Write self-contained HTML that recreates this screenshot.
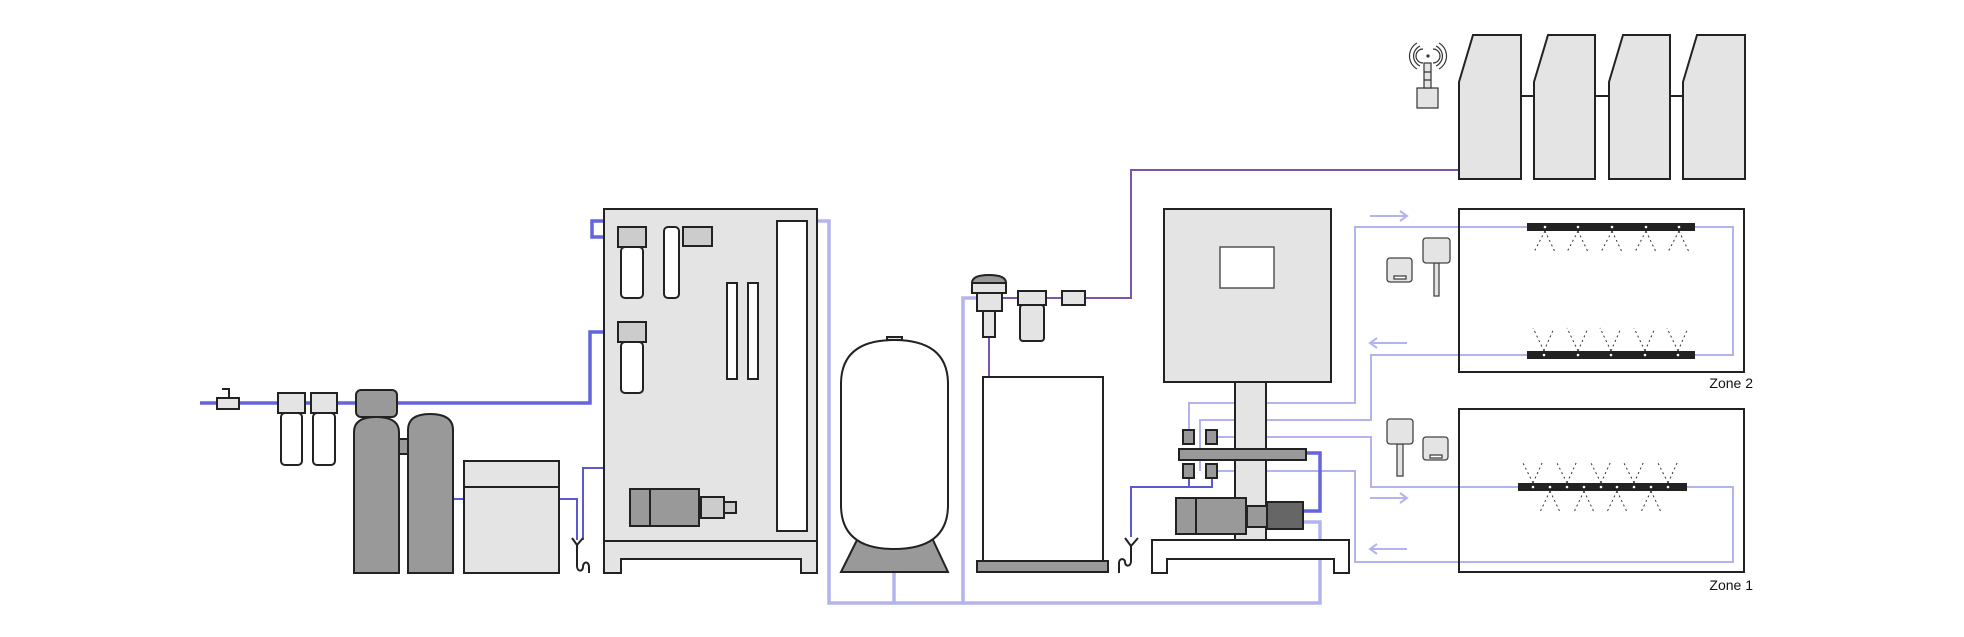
<!DOCTYPE html>
<html><head><meta charset="utf-8"><style>
html,body{margin:0;padding:0;background:#fff;}
svg{display:block;}
text{font-family:"Liberation Sans",Arial,sans-serif;}
</style></head><body>
<svg width="1964" height="637" viewBox="0 0 1964 637" xmlns="http://www.w3.org/2000/svg">
<rect width="1964" height="637" fill="#fff"/>
<g fill="none" stroke-linejoin="miter">
<g stroke="#b3b3ee" stroke-width="3.5">
<path d="M817,221 H829 V603 H1320 V522 H1303"/>
<path d="M894,572 V603"/>
<path d="M963,603 V298 H977"/>
</g>
<g stroke="#b3b3ee" stroke-width="2">
<path d="M1189,430 V403 H1235 M1266,403 H1355 V227 H1527"/>
<path d="M1200,471 V420 H1235 M1266,420 H1371 V355 H1527"/>
<path d="M1217,437 H1235 M1266,437 H1371 V487 H1518"/>
<path d="M1217,471 H1235 M1266,471 H1355 V562 H1733 V487 H1687"/>
<path d="M1695,227 H1733 V355 H1694"/>
<path d="M1370,216 H1407 M1400,211 L1407,216 L1400,221"/>
<path d="M1407,343 H1370 M1377,338 L1370,343 L1377,348"/>
<path d="M1370,498 H1407 M1400,493 L1407,498 L1400,503"/>
<path d="M1407,549 H1370 M1377,544 L1370,549 L1377,554"/>
</g>
<g stroke="#6464dc" stroke-width="3.5">
<path d="M200,403 H590 V332 H618"/>
<path d="M618,237 H592 V221 H604"/>
<path d="M1306,453 H1320 V511 H1303"/>
</g>
<g stroke="#5a5ad0" stroke-width="2">
<path d="M453,499 H464 M559,499 H577 V540"/>
<path d="M604,468 H583 V540"/>
<path d="M1131,537 V487 H1212 V478 M1189,487 V478"/>
</g>
<g stroke="#7a55ac" stroke-width="2">
<path d="M1002,298 H1018 M1046,298 H1062 M1085,298 H1131 V170 H1459"/>
<path d="M989,337 V377"/>
</g>
</g>

<g stroke="#222" stroke-width="2">
<rect x="217" y="398" width="22" height="11" fill="#e4e4e4"/>
<path d="M222,389 H229 V398" fill="none"/>
<rect x="281" y="413" width="21" height="52" rx="4" fill="#fff"/>
<rect x="278" y="393" width="27" height="20" fill="#e4e4e4"/>
<rect x="313" y="413" width="22" height="52" rx="4" fill="#fff"/>
<rect x="311" y="393" width="26" height="20" fill="#e4e4e4"/>
<rect x="399" y="439" width="9" height="15" fill="#999"/>
<path d="M354,573 V432 Q354,417 376,417 Q399,417 399,432 V573 Z" fill="#999"/>
<path d="M408,573 V430 Q408,414 430,414 Q453,414 453,430 V573 Z" fill="#999"/>
<rect x="356" y="390" width="41" height="27" rx="5" fill="#999"/>
<rect x="464" y="461" width="95" height="112" fill="#e4e4e4"/>
<path d="M464,487 H559" fill="none"/>
<path d="M572,538 L577,545 L583,538 M577,545 V566 C577,572 583,572 583,567 C583,561 589,561 589,567 V573" fill="none"/>
<rect x="604" y="209" width="213" height="332" fill="#e4e4e4"/>
<path d="M604,541 H817 V573 H801 V559 H621 V573 H604 Z" fill="#e4e4e4"/>
<rect x="621" y="247" width="22" height="51" rx="4" fill="#fff"/>
<rect x="618" y="227" width="28" height="20" fill="#ccc"/>
<rect x="664" y="227" width="15" height="71" rx="4" fill="#fff"/>
<rect x="683" y="227" width="29" height="19" fill="#ccc"/>
<rect x="621" y="342" width="22" height="51" rx="4" fill="#fff"/>
<rect x="618" y="322" width="28" height="20" fill="#ccc"/>
<rect x="727" y="283" width="10" height="96" fill="#fff"/>
<rect x="748" y="283" width="10" height="96" fill="#fff"/>
<rect x="777" y="221" width="30" height="310" fill="#fff"/>
<rect x="630" y="489" width="69" height="37" fill="#999"/>
<path d="M650,489 V526" fill="none"/>
<rect x="701" y="497" width="23" height="21" fill="#ccc"/>
<rect x="724" y="502" width="12" height="11" fill="#ccc"/>
<path d="M858,538 L841,572 H948 L932,538 Z" fill="#999"/>
<path d="M841,384 Q841,340 894,340 Q948,340 948,384 V505 Q948,549 894,549 Q841,549 841,505 Z" fill="#fff"/>
<rect x="887" y="337" width="15" height="3" fill="#e4e4e4"/>
<path d="M972,283 Q972,275 989,275 Q1006,275 1006,283 Z" fill="#999"/>
<rect x="972" y="283" width="34" height="10" fill="#e4e4e4"/>
<rect x="977" y="293" width="25" height="18" fill="#e4e4e4"/>
<rect x="983" y="311" width="12" height="26" fill="#e4e4e4"/>
<rect x="1020" y="305" width="24" height="36" rx="3" fill="#e4e4e4"/>
<rect x="1018" y="291" width="28" height="14" fill="#e4e4e4"/>
<rect x="1062" y="291" width="23" height="14" fill="#e4e4e4"/>
<rect x="983" y="377" width="120" height="184" fill="#fff"/>
<rect x="977" y="561" width="131" height="11" fill="#999"/>
<path d="M1125,538 L1131,546 L1138,538 M1131,546 V561 C1131,567 1125,567 1125,562 C1125,558 1119,558 1119,563 V573" fill="none"/>
<rect x="1235" y="382" width="31" height="158" fill="#e4e4e4"/>
<rect x="1164" y="209" width="167" height="173" fill="#e4e4e4"/>
<rect x="1220" y="247" width="54" height="41" fill="#fff" stroke="#555" stroke-width="1.5"/>
<rect x="1179" y="449" width="127" height="11" fill="#999"/>
<rect x="1183" y="430" width="11" height="14" fill="#999"/>
<rect x="1206" y="430" width="11" height="14" fill="#999"/>
<rect x="1183" y="464" width="11" height="14" fill="#999"/>
<rect x="1206" y="464" width="11" height="14" fill="#999"/>
<path d="M1152,540 H1349 V573 H1334 V559 H1167 V573 H1152 Z" fill="#fff"/>
<rect x="1176" y="498" width="70" height="36" fill="#999"/>
<path d="M1196,498 V534" fill="none"/>
<rect x="1247" y="506" width="20" height="21" fill="#999"/>
<rect x="1267" y="502" width="36" height="27" fill="#666"/>
<path d="M1521,96 H1534 M1595,96 H1609 M1670,96 H1683" fill="none"/>
<path d="M1459,179 V82 L1473,35 H1521 V179 Z" fill="#e4e4e4"/>
<path d="M1534,179 V82 L1548,35 H1595 V179 Z" fill="#e4e4e4"/>
<path d="M1609,179 V82 L1623,35 H1670 V179 Z" fill="#e4e4e4"/>
<path d="M1683,179 V82 L1697,35 H1745 V179 Z" fill="#e4e4e4"/>
<rect x="1459" y="209" width="285" height="163" fill="none"/>
<rect x="1459" y="409" width="285" height="163" fill="none"/>
</g>
<g stroke="#333" stroke-width="1.2" fill="#e4e4e4">
<rect x="1417" y="88" width="21" height="20"/>
<rect x="1424" y="63" width="7" height="25"/>
<path d="M1424,72 H1431 M1424,80 H1431" fill="none"/>
<g fill="none">
<path d="M1423,49 A7,7 0 0 0 1423,63 M1433,49 A7,7 0 0 1 1433,63"/>
<path d="M1420,46 A11,11 0 0 0 1420,66 M1436,46 A11,11 0 0 1 1436,66"/>
<path d="M1417,43 A15,15 0 0 0 1417,69 M1439,43 A15,15 0 0 1 1439,69"/>
</g>
<circle cx="1428" cy="56" r="1" fill="#333"/>
</g>
<g stroke="#444" stroke-width="1.3" fill="#e4e4e4">
<rect x="1387" y="258" width="25" height="24" rx="3"/>
<rect x="1394" y="276" width="12" height="3" fill="#fff"/>
<rect x="1434" y="263" width="5" height="33"/>
<rect x="1423" y="238" width="27" height="25" rx="3"/>
<rect x="1397" y="444" width="6" height="32"/>
<rect x="1387" y="419" width="26" height="25" rx="3"/>
<rect x="1423" y="437" width="25" height="23" rx="3"/>
<rect x="1430" y="455" width="12" height="3" fill="#fff"/>
</g>
<g fill="#222">
<rect x="1527" y="223" width="168" height="8"/>
<rect x="1527" y="351" width="168" height="8"/>
<rect x="1518" y="483" width="169" height="8"/>
</g>
<g fill="#fff">
<circle cx="1545" cy="227" r="1.3"/><circle cx="1578" cy="227" r="1.3"/><circle cx="1612" cy="227" r="1.3"/><circle cx="1646" cy="227" r="1.3"/><circle cx="1679" cy="227" r="1.3"/>
<circle cx="1544" cy="355" r="1.3"/><circle cx="1578" cy="355" r="1.3"/><circle cx="1611" cy="355" r="1.3"/><circle cx="1645" cy="355" r="1.3"/><circle cx="1678" cy="355" r="1.3"/>
<circle cx="1533" cy="487" r="1.3"/><circle cx="1550" cy="487" r="1.3"/><circle cx="1567" cy="487" r="1.3"/><circle cx="1584" cy="487" r="1.3"/><circle cx="1601" cy="487" r="1.3"/><circle cx="1617" cy="487" r="1.3"/><circle cx="1634" cy="487" r="1.3"/><circle cx="1651" cy="487" r="1.3"/><circle cx="1668" cy="487" r="1.3"/>
</g>
<g stroke="#333" stroke-width="1" stroke-dasharray="2,3" fill="none">
<path d="M1545,231 L1534,252 M1545,231 L1555,252 M1578,231 L1567,252 M1578,231 L1588,252 M1612,231 L1601,252 M1612,231 L1622,252 M1646,231 L1635,252 M1646,231 L1656,252 M1679,231 L1668,252 M1679,231 L1689,252"/>
<path d="M1544,351 L1533,328 M1544,351 L1554,328 M1578,351 L1567,328 M1578,351 L1588,328 M1611,351 L1600,328 M1611,351 L1621,328 M1645,351 L1634,328 M1645,351 L1655,328 M1678,351 L1667,328 M1678,351 L1688,328"/>
<path d="M1533,483 L1522,461 M1533,483 L1543,461 M1567,483 L1556,461 M1567,483 L1577,461 M1601,483 L1590,461 M1601,483 L1611,461 M1634,483 L1623,461 M1634,483 L1644,461 M1668,483 L1657,461 M1668,483 L1678,461"/>
<path d="M1550,491 L1540,512 M1550,491 L1560,512 M1584,491 L1574,512 M1584,491 L1594,512 M1617,491 L1607,512 M1617,491 L1627,512 M1651,491 L1641,512 M1651,491 L1661,512"/>
</g>
<text x="1753" y="388" font-size="14" text-anchor="end" fill="#111">Zone 2</text>
<text x="1753" y="590" font-size="14" text-anchor="end" fill="#111">Zone 1</text>
</svg>
</body></html>
